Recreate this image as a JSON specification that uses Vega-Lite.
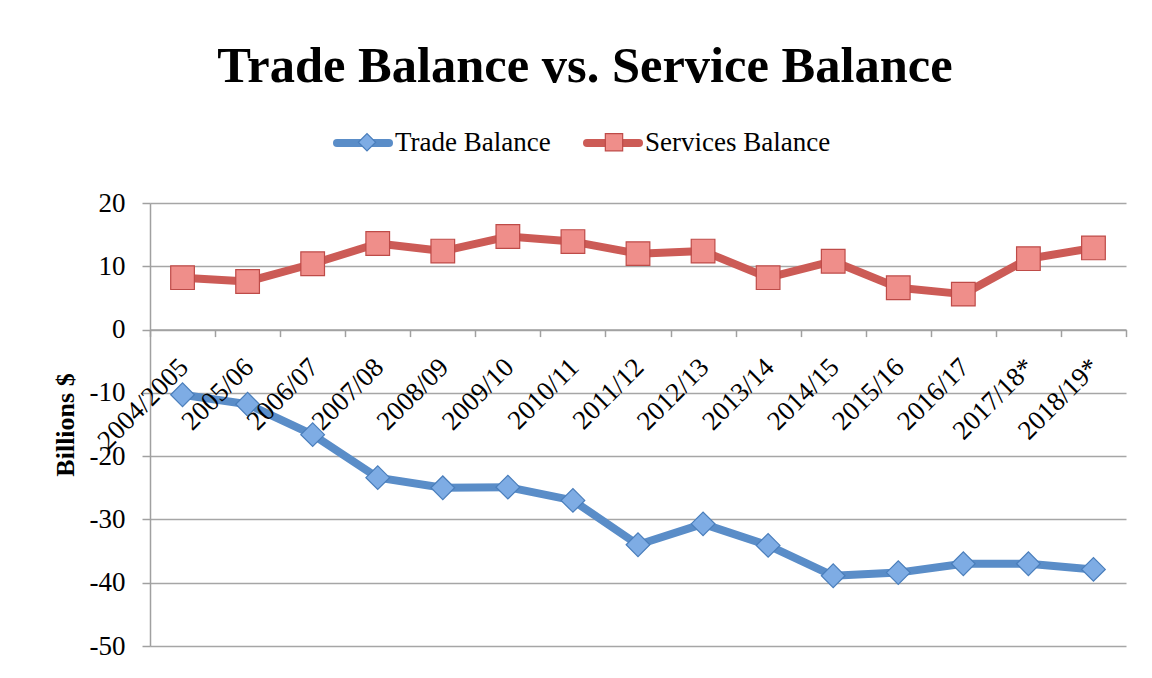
{
  "$schema": "https://vega.github.io/schema/vega-lite/v6.json",
  "width": 976,
  "height": 443,
  "autosize": {"type": "none"},
  "padding": {"left": 150, "top": 203, "right": 26, "bottom": 32},
  "background": "white",
  "title": {
    "text": "Trade Balance vs. Service Balance",
    "font": "Liberation Serif",
    "fontSize": 50.5,
    "fontWeight": "bold",
    "color": "black",
    "anchor": "middle",
    "dx": -53,
    "offset": 21
  },
  "config": {
    "view": {"stroke": null},
    "legend": {"padding": 0}
  },
  "resolve": {"scale": {"color": "independent"}},
  "data": {
    "values": [
      {"period": "2004/2005", "series": "Trade Balance", "value": -10.3},
      {"period": "2005/06", "series": "Trade Balance", "value": -11.8},
      {"period": "2006/07", "series": "Trade Balance", "value": -16.6},
      {"period": "2007/08", "series": "Trade Balance", "value": -23.4},
      {"period": "2008/09", "series": "Trade Balance", "value": -25.0},
      {"period": "2009/10", "series": "Trade Balance", "value": -24.9},
      {"period": "2010/11", "series": "Trade Balance", "value": -27.0},
      {"period": "2011/12", "series": "Trade Balance", "value": -34.0},
      {"period": "2012/13", "series": "Trade Balance", "value": -30.7},
      {"period": "2013/14", "series": "Trade Balance", "value": -34.1},
      {"period": "2014/15", "series": "Trade Balance", "value": -38.9},
      {"period": "2015/16", "series": "Trade Balance", "value": -38.4},
      {"period": "2016/17", "series": "Trade Balance", "value": -37.0},
      {"period": "2017/18*", "series": "Trade Balance", "value": -37.0},
      {"period": "2018/19*", "series": "Trade Balance", "value": -37.9},
      {"period": "2004/2005", "series": "Services Balance", "value": 8.2},
      {"period": "2005/06", "series": "Services Balance", "value": 7.6},
      {"period": "2006/07", "series": "Services Balance", "value": 10.4},
      {"period": "2007/08", "series": "Services Balance", "value": 13.6},
      {"period": "2008/09", "series": "Services Balance", "value": 12.4},
      {"period": "2009/10", "series": "Services Balance", "value": 14.7},
      {"period": "2010/11", "series": "Services Balance", "value": 13.9},
      {"period": "2011/12", "series": "Services Balance", "value": 12.0},
      {"period": "2012/13", "series": "Services Balance", "value": 12.4},
      {"period": "2013/14", "series": "Services Balance", "value": 8.2},
      {"period": "2014/15", "series": "Services Balance", "value": 10.8},
      {"period": "2015/16", "series": "Services Balance", "value": 6.6},
      {"period": "2016/17", "series": "Services Balance", "value": 5.6},
      {"period": "2017/18*", "series": "Services Balance", "value": 11.2},
      {"period": "2018/19*", "series": "Services Balance", "value": 12.9}
    ]
  },
  "encoding": {
    "x": {
      "field": "period",
      "type": "ordinal",
      "sort": null,
      "bandPosition": 0.5,
      "scale": {"type": "band", "paddingInner": 0, "paddingOuter": 0},
      "axis": {
        "title": null,
        "orient": "bottom",
        "offset": -316.4,
        "zindex": 1,
        "grid": false,
        "tickBand": "extent",
        "domainColor": "#A0A0A0",
        "domainWidth": 1.5,
        "tickColor": "#A0A0A0",
        "tickWidth": 1.5,
        "tickSize": 7,
        "labelAngle": -45,
        "labelAlign": "right",
        "labelBaseline": "top",
        "labelFont": "Liberation Serif",
        "labelFontSize": 27,
        "labelColor": "black",
        "labelPadding": 17,
        "labelOffset": -8,
        "labelLimit": 0
      }
    },
    "y": {
      "field": "value",
      "type": "quantitative",
      "scale": {"domain": [-50, 20], "nice": false, "zero": false},
      "axis": {
        "title": "Billions $",
        "titleFont": "Liberation Serif",
        "titleFontSize": 26,
        "titleFontWeight": "bold",
        "titleColor": "black",
        "titlePadding": 11,
        "values": [-50, -40, -30, -20, -10, 0, 10, 20],
        "labelExpr": "toString(datum.value)",
        "domainColor": "#A0A0A0",
        "domainWidth": 1.5,
        "tickColor": "#A0A0A0",
        "tickWidth": 1.5,
        "tickSize": 8,
        "gridColor": "#A6A6A6",
        "gridWidth": 1.5,
        "labelFont": "Liberation Serif",
        "labelFontSize": 27,
        "labelColor": "black",
        "labelPadding": 17
      }
    }
  },
  "layer": [
    {
      "mark": {"type": "line", "strokeWidth": 8, "strokeJoin": "round", "strokeCap": "round"},
      "encoding": {
        "color": {
          "field": "series",
          "type": "nominal",
          "scale": {"domain": ["Trade Balance", "Services Balance"], "range": ["#5A8DC8", "#CC5B56"]},
          "legend": {
            "title": null,
            "orient": "none",
            "legendX": 183,
            "legendY": -90,
            "direction": "horizontal",
            "symbolType": "stroke",
            "symbolSize": 2704,
            "symbolStrokeWidth": 8,
            "symbolOffset": 0,
            "labelOffset": 2,
            "labelLimit": 0,
            "labelFont": "Liberation Serif",
            "labelFontSize": 27,
            "labelColor": "black",
            "columnPadding": 20,
            "encode": {"symbols": {"update": {"strokeCap": {"value": "round"}}}}
          }
        }
      }
    },
    {
      "mark": {"type": "point", "filled": true, "strokeWidth": 1.2, "opacity": 1, "size": 560},
      "encoding": {
        "color": {
          "field": "series",
          "type": "nominal",
          "scale": {"domain": ["Trade Balance", "Services Balance"], "range": ["#7EACE4", "#EF8E8A"]},
          "legend": {
            "title": null,
            "orient": "none",
            "legendX": 183,
            "legendY": -74.5,
            "direction": "horizontal",
            "symbolType": {"expr": "datum.value === 'Trade Balance' ? 'diamond' : 'square'"},
            "symbolStrokeColor": {"expr": "datum.value === 'Trade Balance' ? '#4A7EBB' : '#BE4B48'"},
            "symbolSize": 300,
            "symbolStrokeWidth": 1.2,
            "symbolOffset": 20.5,
            "labelOffset": 43,
            "labelLimit": 0,
            "labelExpr": "''",
            "labelFont": "Liberation Serif",
            "labelFontSize": 27,
            "columnPadding": 156
          }
        },
        "stroke": {
          "field": "series",
          "type": "nominal",
          "scale": {"domain": ["Trade Balance", "Services Balance"], "range": ["#4A7EBB", "#BE4B48"]},
          "legend": null
        },
        "shape": {
          "field": "series",
          "type": "nominal",
          "scale": {"domain": ["Trade Balance", "Services Balance"], "range": ["diamond", "square"]},
          "legend": null
        }
      }
    }
  ]
}
